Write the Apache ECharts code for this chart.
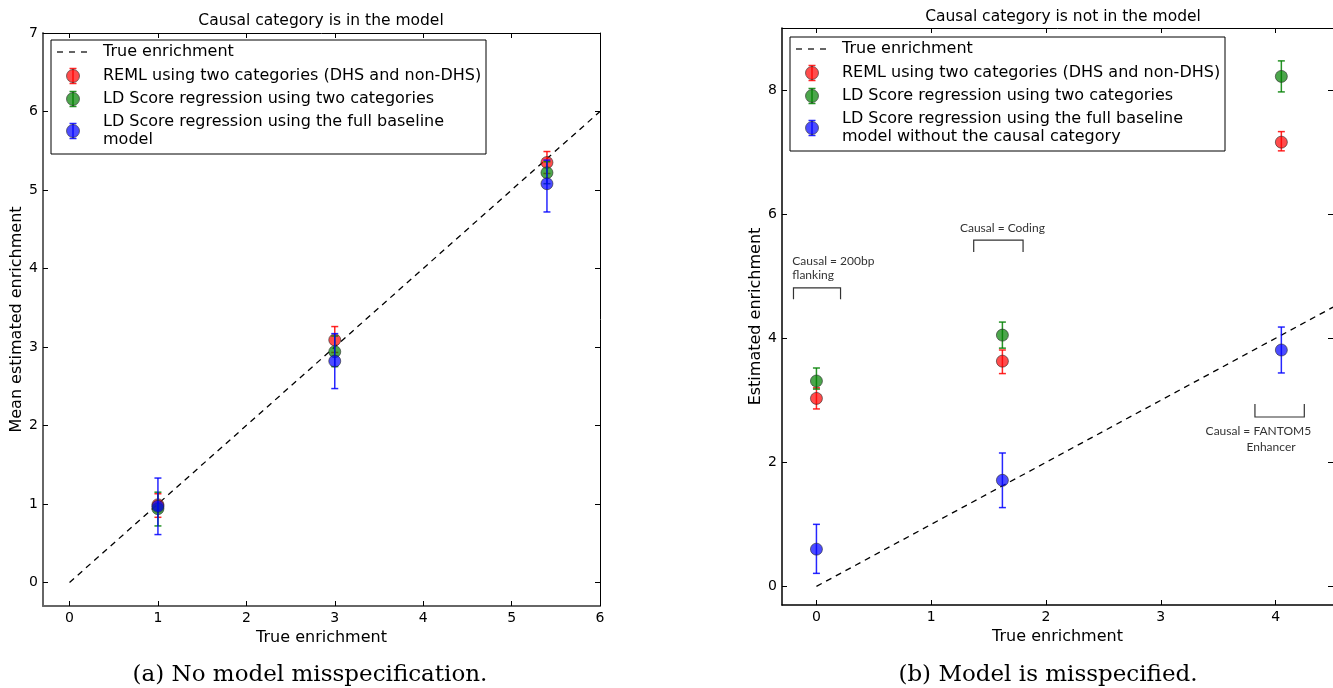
<!DOCTYPE html>
<html>
<head>
<meta charset="utf-8">
<script src="https://cdn.jsdelivr.net/npm/echarts@6/dist/echarts.min.js"></script>
<style>
  html, body { margin: 0; padding: 0; background: #fff; }
  #chart { width: 1333px; height: 688px; }
</style>
</head>
<body>
<div id="chart"></div>
<script>
// ---- panel (a): causal category is in the model ----
const aX = [1, 3, 5.4]
const aRemlMean = [0.99, 3.09, 5.35]
const aRemlLo = [0.83, 2.93, 5.21]
const aRemlHi = [1.13, 3.26, 5.49]
const aTwoMean = [0.94, 2.94, 5.22]
const aTwoLo = [0.72, 2.75, 5.08]
const aTwoHi = [1.15, 3.14, 5.36]
const aFullMean = [0.97, 2.82, 5.08]
const aFullLo = [0.61, 2.47, 4.72]
const aFullHi = [1.33, 3.17, 5.38]
const aTrueX = [0, 6]

// ---- panel (b): causal category is not in the model ----
const bX = [0, 1.62, 4.05]
const bRemlMean = [3.03, 3.63, 7.16]
const bRemlLo = [2.86, 3.43, 7.02]
const bRemlHi = [3.20, 3.81, 7.33]
const bTwoMean = [3.31, 4.05, 8.22]
const bTwoLo = [3.18, 3.84, 7.97]
const bTwoHi = [3.52, 4.26, 8.47]
const bFullMean = [0.60, 1.71, 3.81]
const bFullLo = [0.21, 1.27, 3.44]
const bFullHi = [1.00, 2.15, 4.18]
const bTrueX = [0, 4.5]

const aTicksX = [0, 1, 2, 3, 4, 5, 6]
const aTicksY = [0, 1, 2, 3, 4, 5, 6, 7]
const bTicksX = [0, 1, 2, 3, 4]
const bTicksY = [0, 2, 4, 6, 8]

const trueName = 'True enrichment'
const remlName = 'REML using two categories (DHS and non-DHS)'
const twoName = 'LD Score regression using two categories'
const aFullName = ['LD Score regression using the full baseline', 'model']
const bFullName = ['LD Score regression using the full baseline', 'model without the causal category']

// annotation brackets in panel (b), data coordinates
const bBrackets = [
  { x0: -0.2, x1: 0.21, y: 4.81, tip: 4.63 },
  { x0: 1.37, x1: 1.80, y: 5.58, tip: 5.39 },
  { x0: 3.82, x1: 4.25, y: 2.73, tip: 2.94 }
]
const bNotes = [
  { text: 'Causal = 200bp', x: -0.21, y: 5.24, align: 'left' },
  { text: 'flanking', x: -0.21, y: 5.02, align: 'left' },
  { text: 'Causal = Coding', x: 1.62, y: 5.77, align: 'center' },
  { text: 'Causal = FANTOM5', x: 3.85, y: 2.50, align: 'center' },
  { text: 'Enhancer', x: 3.96, y: 2.24, align: 'center' }
]

const RED = 'rgba(255,0,0,0.7)'
const GREEN = 'rgba(0,128,0,0.7)'
const BLUE = 'rgba(0,0,255,0.7)'
const RED_BAR = 'rgba(255,0,0,0.85)'
const GREEN_BAR = 'rgba(0,128,0,0.85)'
const BLUE_BAR = 'rgba(0,0,255,0.85)'
const FONT = 'DejaVu Sans'

const chart = echarts.init(document.getElementById('chart'), null, { renderer: 'canvas' })

function errSeries (xi, xs, lo, hi, color, z) {
  return {
    type: 'custom',
    xAxisIndex: xi,
    yAxisIndex: xi,
    z: z,
    silent: true,
    data: xs.map((x, i) => [x, lo[i], hi[i]]),
    renderItem: function (params, api) {
      const top = api.coord([api.value(0), api.value(2)])
      const bot = api.coord([api.value(0), api.value(1)])
      const w = 3.5
      const st = { stroke: color, lineWidth: 1.5 }
      return {
        type: 'group',
        children: [
          { type: 'line', shape: { x1: top[0], y1: top[1], x2: bot[0], y2: bot[1] }, style: st },
          { type: 'line', shape: { x1: top[0] - w, y1: top[1], x2: top[0] + w, y2: top[1] }, style: st },
          { type: 'line', shape: { x1: bot[0] - w, y1: bot[1], x2: bot[0] + w, y2: bot[1] }, style: st }
        ]
      }
    }
  }
}

function dotSeries (xi, xs, ys, color, z) {
  return {
    type: 'scatter',
    xAxisIndex: xi,
    yAxisIndex: xi,
    z: z,
    symbolSize: 12,
    data: xs.map((x, i) => [x, ys[i]]),
    itemStyle: { color: color, borderColor: 'rgba(40,40,40,0.6)', borderWidth: 1, opacity: 1 }
  }
}

function trueSeries (xi, xs) {
  return {
    type: 'line',
    xAxisIndex: xi,
    yAxisIndex: xi,
    z: 1,
    symbol: 'none',
    data: xs.map(x => [x, x]),
    lineStyle: { color: '#000', width: 1.3, type: [6, 5] }
  }
}

function xAx (grid, pos, min, max, ticks, name, spine) {
  const bottom = pos === 'bottom'
  return {
    type: 'value', gridIndex: grid, position: pos, min: min, max: max,
    name: bottom ? name : '', nameLocation: 'middle', nameGap: 19,
    nameTextStyle: { fontFamily: FONT, fontSize: 16, color: '#000' },
    axisLine: { onZero: false, lineStyle: { color: bottom ? spine.color : '#000', width: bottom ? spine.width : 1 } },
    axisTick: { inside: true, length: 5, customValues: ticks, lineStyle: { color: '#000' } },
    axisLabel: { show: bottom, customValues: ticks, fontFamily: FONT, fontSize: 14, color: '#000', margin: 5 },
    splitLine: { show: false }
  }
}

function yAx (grid, pos, min, max, ticks, name, gap, spine) {
  const left = pos === 'left'
  return {
    type: 'value', gridIndex: grid, position: pos, min: min, max: max,
    name: left ? name : '', nameLocation: 'middle', nameGap: gap, nameRotate: 90,
    nameTextStyle: { fontFamily: FONT, fontSize: 16, color: '#000' },
    axisLine: { onZero: false, lineStyle: { color: left ? spine.color : '#000', width: left ? spine.width : 1 } },
    axisTick: { inside: true, length: 5, customValues: ticks, lineStyle: { color: '#000' } },
    axisLabel: { show: left, customValues: ticks, fontFamily: FONT, fontSize: 14, color: '#000', margin: 5 },
    splitLine: { show: false }
  }
}

const spineA = { color: '#666', width: 2 }
const spineB = { color: '#000', width: 1.5 }

const series = [
  trueSeries(0, aTrueX),
  errSeries(0, aX, aRemlLo, aRemlHi, RED_BAR, 2), dotSeries(0, aX, aRemlMean, RED, 3),
  errSeries(0, aX, aTwoLo, aTwoHi, GREEN_BAR, 4), dotSeries(0, aX, aTwoMean, GREEN, 5),
  errSeries(0, aX, aFullLo, aFullHi, BLUE_BAR, 6), dotSeries(0, aX, aFullMean, BLUE, 7),
  trueSeries(2, bTrueX),
  errSeries(2, bX, bRemlLo, bRemlHi, RED_BAR, 2), dotSeries(2, bX, bRemlMean, RED, 3),
  errSeries(2, bX, bTwoLo, bTwoHi, GREEN_BAR, 4), dotSeries(2, bX, bTwoMean, GREEN, 5),
  errSeries(2, bX, bFullLo, bFullHi, BLUE_BAR, 6), dotSeries(2, bX, bFullMean, BLUE, 7),
  {
    type: 'custom', xAxisIndex: 2, yAxisIndex: 2, z: 8, silent: true,
    data: bBrackets.map(b => [b.x0, b.x1, b.y, b.tip]),
    renderItem: function (params, api) {
      const p0 = api.coord([api.value(0), api.value(2)])
      const p1 = api.coord([api.value(1), api.value(2)])
      const t = api.coord([api.value(0), api.value(3)])
      return {
        type: 'polyline',
        shape: { points: [[p0[0], t[1]], p0, p1, [p1[0], t[1]]] },
        style: { stroke: '#333', lineWidth: 1.2, fill: null }
      }
    }
  },
  {
    type: 'custom', xAxisIndex: 2, yAxisIndex: 2, z: 8, silent: true,
    data: bNotes.map(n => [n.x, n.y]),
    renderItem: function (params, api) {
      const p = api.coord([api.value(0), api.value(1)])
      const n = bNotes[params.dataIndex]
      return {
        type: 'text',
        style: { x: p[0], y: p[1], text: n.text, align: n.align, verticalAlign: 'middle',
          font: '12px Lato', fill: '#333' }
      }
    }
  }
]

function marker (cx, cy, fill, bar) {
  return [
    { type: 'line', shape: { x1: cx, y1: cy - 7.5, x2: cx, y2: cy + 7.5 }, style: { stroke: bar, lineWidth: 1.5 } },
    { type: 'line', shape: { x1: cx - 3.5, y1: cy - 7.5, x2: cx + 3.5, y2: cy - 7.5 }, style: { stroke: bar, lineWidth: 1.5 } },
    { type: 'line', shape: { x1: cx - 3.5, y1: cy + 7.5, x2: cx + 3.5, y2: cy + 7.5 }, style: { stroke: bar, lineWidth: 1.5 } },
    { type: 'circle', shape: { cx: cx, cy: cy, r: 6.5 }, style: { fill: fill, stroke: 'rgba(40,40,40,0.6)', lineWidth: 1 } }
  ]
}

function legend (left, top, fullName) {
  const txt = (y, s) => ({ type: 'text', style: { x: left + 52, y: top + y, text: s, font: '16px "DejaVu Sans"', fill: '#000', verticalAlign: 'middle' } })
  const kids = [
    { type: 'rect', shape: { x: left, y: top, width: 435, height: 114 }, style: { fill: '#fff', stroke: '#000', lineWidth: 1 } },
    { type: 'line', shape: { x1: left + 6, y1: top + 12, x2: left + 40, y2: top + 12 }, style: { stroke: '#000', lineWidth: 1.2, lineDash: [6, 6] } },
    txt(12, trueName),
    txt(36, remlName),
    txt(59, twoName),
    txt(82, fullName[0]),
    txt(100, fullName[1])
  ]
  return {
    type: 'group', z: 100,
    children: kids
      .concat(marker(left + 22, top + 36, RED, RED_BAR))
      .concat(marker(left + 22, top + 59, GREEN, GREEN_BAR))
      .concat(marker(left + 22, top + 91, BLUE, BLUE_BAR))
  }
}

function label (x, y, s, font) {
  return { type: 'text', z: 100, style: { x: x, y: y, text: s, font: font, fill: '#000', align: 'center', verticalAlign: 'middle' } }
}

chart.setOption({
  animation: false,
  grid: [
    { left: 43, top: 33, width: 557, height: 573 },
    { left: 782, top: 28, width: 559, height: 577 }
  ],
  xAxis: [
    xAx(0, 'bottom', -0.3, 6, aTicksX, 'True enrichment', spineA),
    xAx(0, 'top', -0.3, 6, aTicksX, '', spineA),
    xAx(1, 'bottom', -0.3, 4.5, bTicksX, 'True enrichment', spineB),
    xAx(1, 'top', -0.3, 4.5, bTicksX, '', spineB)
  ],
  yAxis: [
    yAx(0, 'left', -0.3, 7, aTicksY, 'Mean estimated enrichment', 11, spineA),
    yAx(0, 'right', -0.3, 7, aTicksY, '', 11, spineA),
    yAx(1, 'left', -0.3, 9, bTicksY, 'Estimated enrichment', 8, spineB),
    yAx(1, 'right', -0.3, 9, bTicksY, '', 8, spineB)
  ],
  series: series,
  graphic: [
    legend(51, 40, aFullName),
    legend(790, 37, bFullName),
    label(321, 21, 'Causal category is in the model', '15.5px "DejaVu Sans"'),
    label(1063, 17, 'Causal category is not in the model', '15.5px "DejaVu Sans"'),
    label(310, 675, '(a) No model misspecification.', '23px "DejaVu Serif"'),
    label(1048, 675, '(b) Model is misspecified.', '23px "DejaVu Serif"')
  ]
})
</script>
</body>
</html>
